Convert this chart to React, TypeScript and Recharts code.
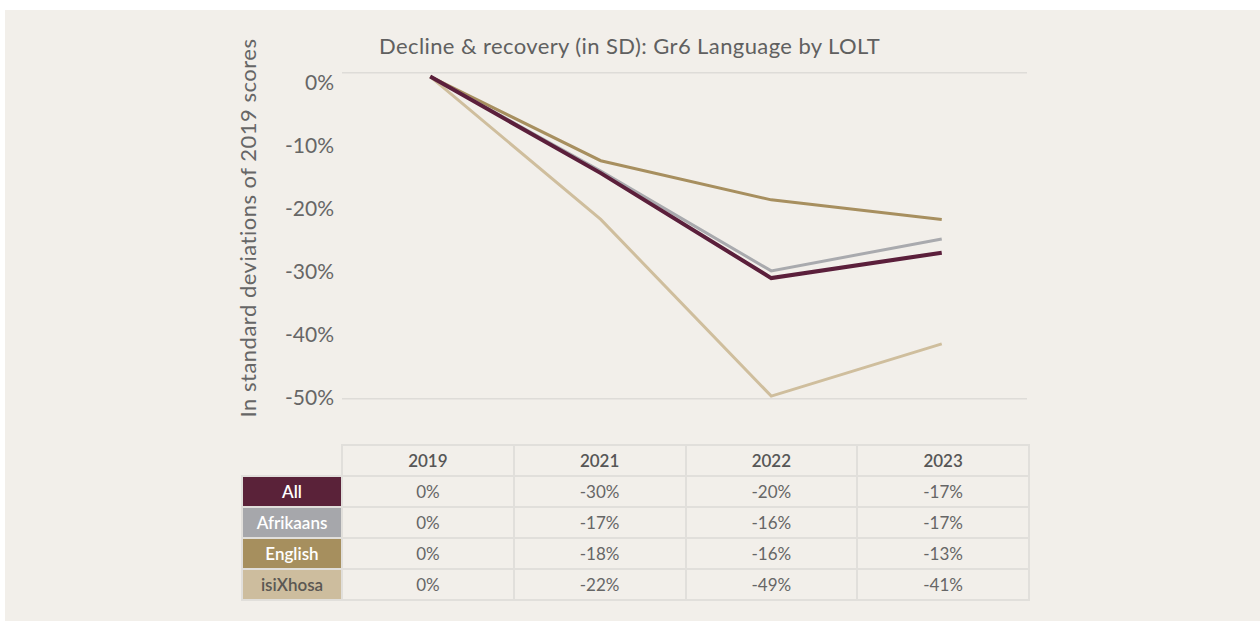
import { ComposedChart, Line, XAxis, YAxis, CartesianGrid } from 'recharts';

const FONT = 'Lato, "Open Sans", sans-serif';

const years = ['2019', '2021', '2022', '2023'];

// plotted lines
const allLine = [0, -14.8, -30.9, -27.0];
const afrikaansLine = [0, -14.5, -29.8, -24.9];
const englishLine = [0, -12.9, -18.9, -21.9];
const isiXhosaLine = [0, -21.9, -49.0, -41.0];

// table under the chart
const allTable = [0, -30, -20, -17];
const afrikaansTable = [0, -17, -16, -17];
const englishTable = [0, -18, -16, -13];
const isiXhosaTable = [0, -22, -49, -41];

const yTicks = [0, -10, -20, -30, -40, -50];
const gridTicks = [0, 1, 2, 3, 4, 5, 6, 7];

const ALL_COLOR = '#5b1f3b';
const AFRIKAANS_COLOR = '#a9aaae';
const ENGLISH_COLOR = '#a78f5f';
const XHOSA_COLOR = '#cfbe9d';

const rows = [
  { name: 'All', values: allTable, bg: '#5a2239', fg: '#ffffff' },
  { name: 'Afrikaans', values: afrikaansTable, bg: '#a6a7ab', fg: '#ffffff' },
  { name: 'English', values: englishTable, bg: '#a68f5e', fg: '#ffffff' },
  { name: 'isiXhosa', values: isiXhosaTable, bg: '#cdbd9e', fg: '#5b5853' },
];

const data = years.map((year, i) => ({
  year,
  All: allLine[i],
  Afrikaans: afrikaansLine[i],
  English: englishLine[i],
  isiXhosa: isiXhosaLine[i],
}));

const BORDER = '2px solid #e1dfdb';

export default function App() {
  return (
    <div
      style={{
        position: 'fixed',
        left: 0,
        top: 0,
        width: 1260,
        height: 621,
        background: '#ffffff',
        overflow: 'hidden',
        fontFamily: FONT,
      }}
    >
      <div style={{ position: 'absolute', left: 5, top: 10, right: 0, bottom: 0, background: '#f2efea' }} />

      <div style={{ position: 'absolute', left: 0, top: 0 }}>
        <ComposedChart
          width={1260}
          height={420}
          data={data}
          margin={{ top: 72.7, right: 233, bottom: 21.3, left: 282 }}
        >
          <CartesianGrid yAxisId="grid" vertical={false} stroke="#dedcd8" strokeWidth={1.5} />
          <XAxis dataKey="year" hide scale="band" padding={{ left: 3, right: 0 }} />
          <YAxis yAxisId="grid" hide width={0} type="number" domain={[0, 7]} ticks={gridTicks} />
          <YAxis yAxisId="data" hide width={0} type="number" domain={[-49.4, 0.6]} allowDataOverflow />
          <YAxis
            yAxisId="labels"
            type="number"
            domain={[-50.22, 1.52]}
            ticks={yTicks}
            allowDataOverflow
            width={60}
            axisLine={false}
            tickLine={false}
            tickFormatter={(v: number) => `${v}%`}
            tick={{ fill: '#666666', fontSize: 21, fontFamily: FONT }}
          />
          <Line yAxisId="data" dataKey="isiXhosa" stroke={XHOSA_COLOR} strokeWidth={3} dot={false} isAnimationActive={false} />
          <Line yAxisId="data" dataKey="English" stroke={ENGLISH_COLOR} strokeWidth={3} dot={false} isAnimationActive={false} />
          <Line yAxisId="data" dataKey="Afrikaans" stroke={AFRIKAANS_COLOR} strokeWidth={3} dot={false} isAnimationActive={false} />
          <Line yAxisId="data" dataKey="All" stroke={ALL_COLOR} strokeWidth={4} dot={false} isAnimationActive={false} />
        </ComposedChart>
      </div>

      <div
        style={{
          position: 'absolute',
          left: 379,
          top: 35,
          fontSize: 22,
          letterSpacing: 0.4,
          lineHeight: '22px',
          color: '#606060',
          whiteSpace: 'nowrap',
        }}
      >
        Decline &amp; recovery (in SD): Gr6 Language by LOLT
      </div>

      <div
        style={{
          position: 'absolute',
          left: 248,
          top: 228,
          transform: 'translate(-50%, -50%) rotate(-90deg)',
          fontSize: 22,
          letterSpacing: 0.5,
          lineHeight: '22px',
          color: '#666666',
          whiteSpace: 'nowrap',
        }}
      >
        In standard deviations of 2019 scores
      </div>

      <table
        style={{
          position: 'absolute',
          left: 241,
          top: 444,
          width: 787,
          borderCollapse: 'collapse',
          tableLayout: 'fixed',
          fontSize: 17,
          color: '#666666',
        }}
      >
        <colgroup>
          <col style={{ width: 100 }} />
          {years.map((y) => (
            <col key={y} style={{ width: 171.75 }} />
          ))}
        </colgroup>
        <tbody>
          <tr style={{ height: 31 }}>
            <td style={{ border: 'none', padding: 0 }} />
            {years.map((y) => (
              <td
                key={y}
                style={{ border: BORDER, textAlign: 'center', padding: 0, fontWeight: 600, color: '#565656' }}
              >
                {y}
              </td>
            ))}
          </tr>
          {rows.map((r) => (
            <tr key={r.name} style={{ height: 31 }}>
              <td
                style={{
                  border: BORDER,
                  background: r.bg,
                  color: r.fg,
                  textAlign: 'center',
                  padding: 0,
                  fontWeight: 600,
                }}
              >
                {r.name}
              </td>
              {r.values.map((v, i) => (
                <td key={i} style={{ border: BORDER, textAlign: 'center', padding: 0 }}>
                  {`${v}%`}
                </td>
              ))}
            </tr>
          ))}
        </tbody>
      </table>
    </div>
  );
}
